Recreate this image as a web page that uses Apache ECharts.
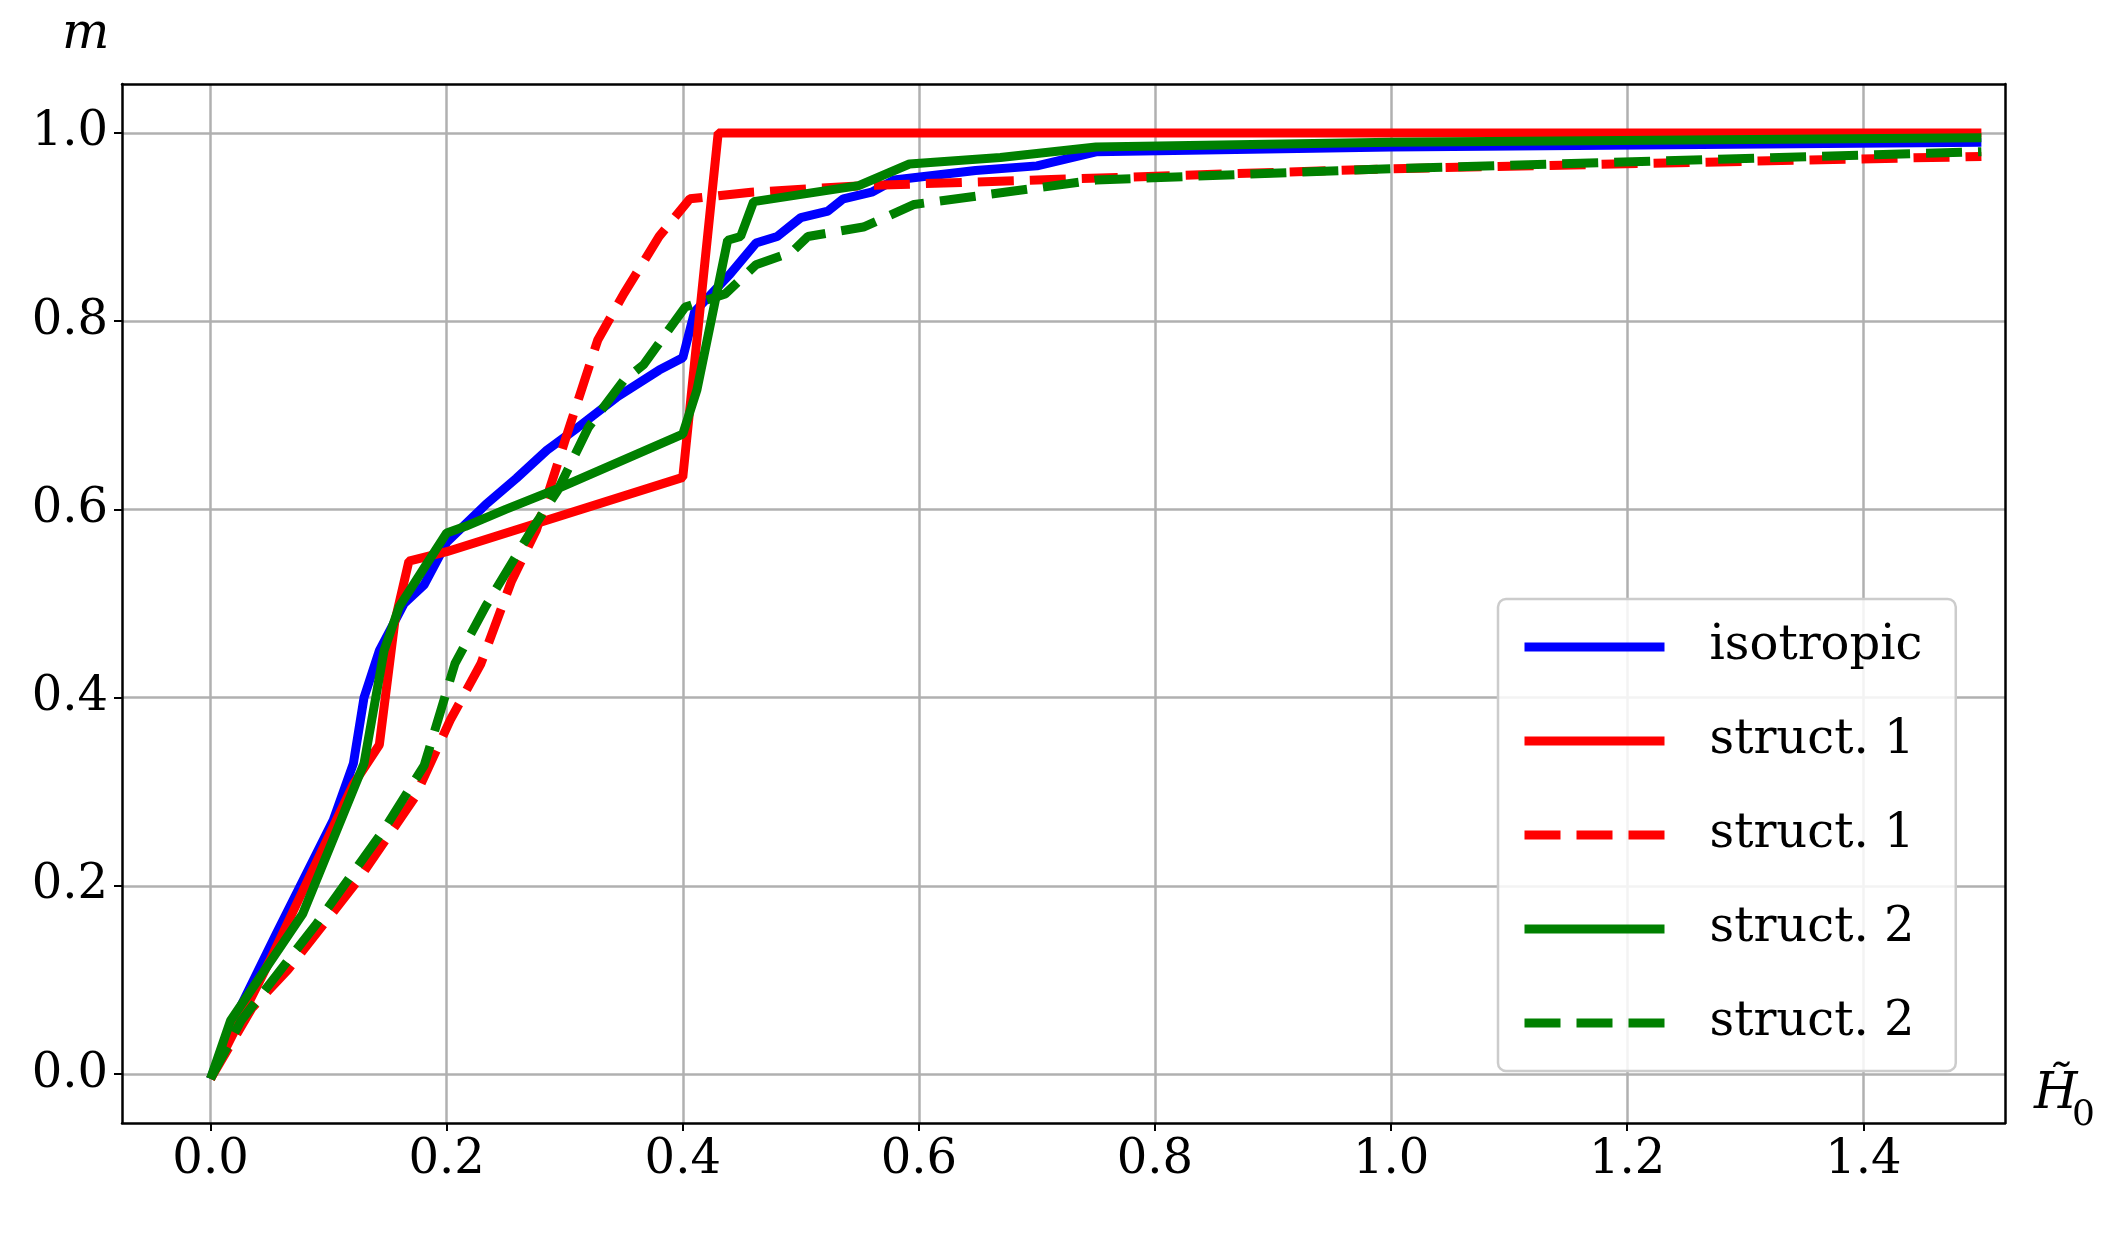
<!DOCTYPE html>
<html><head><meta charset="utf-8">
<script src="https://cdn.jsdelivr.net/npm/echarts@6/dist/echarts.min.js"></script>
<style>html,body{margin:0;background:#fff}#c{width:2121px;height:1234px}</style>
</head><body><div id="c"></div>
<script>
const isoX=[0,0.017,0.056,0.104,0.121,0.13,0.143,0.164,0.181,0.2,0.233,0.259,0.285,0.311,0.345,0.38,0.4,0.41,0.44,0.462,0.48,0.5,0.523,0.536,0.56,0.579,0.648,0.7,0.75,1.0,1.5];
const isoY=[-0.005,0.05,0.15,0.27,0.33,0.40,0.45,0.50,0.52,0.565,0.605,0.633,0.663,0.687,0.72,0.748,0.761,0.81,0.85,0.883,0.89,0.91,0.917,0.93,0.937,0.95,0.96,0.965,0.98,0.985,0.99];
const s1X=[0,0.05,0.121,0.143,0.156,0.168,0.2,0.4,0.43,1.5];
const s1Y=[-0.005,0.12,0.308,0.35,0.48,0.545,0.555,0.634,1.0,1.0];
const s1dX=[0,0.035,0.065,0.125,0.173,0.203,0.229,0.255,0.276,0.302,0.328,0.35,0.38,0.406,0.458,0.553,0.7,1.0,1.5];
const s1dY=[-0.005,0.07,0.11,0.206,0.294,0.376,0.436,0.524,0.578,0.68,0.78,0.829,0.89,0.93,0.937,0.944,0.95,0.962,0.975];
const s2X=[0,0.017,0.078,0.13,0.147,0.16,0.181,0.2,0.216,0.25,0.294,0.4,0.412,0.438,0.449,0.46,0.549,0.592,0.669,0.75,1.0,1.5];
const s2Y=[-0.005,0.057,0.17,0.33,0.45,0.497,0.538,0.575,0.582,0.6,0.622,0.68,0.727,0.886,0.89,0.927,0.944,0.967,0.974,0.985,0.99,0.995];
const s2dX=[0,0.026,0.09,0.147,0.181,0.207,0.233,0.272,0.294,0.32,0.35,0.367,0.402,0.436,0.462,0.492,0.506,0.553,0.596,0.75,1.0,1.5];
const s2dY=[-0.005,0.057,0.16,0.26,0.328,0.436,0.497,0.578,0.62,0.687,0.737,0.754,0.815,0.829,0.86,0.873,0.89,0.9,0.924,0.95,0.962,0.98];
const xTicks=[0,0.2,0.4,0.6,0.8,1.0,1.2,1.4];
const yTicks=[0,0.2,0.4,0.6,0.8,1.0];
const names=['isotropic','struct. 1','struct. 1 ','struct. 2','struct. 2 '];
const zip=(a,b)=>a.map((v,i)=>[v,b[i]]);
const font='"DejaVu Serif", "Liberation Serif", serif';
const mk=(name,x,y,color,dash)=>({name,type:'line',data:zip(x,y),symbol:'none',showSymbol:false,
  lineStyle:{color,width:9,type:dash?[36,16]:'solid'},itemStyle:{color}});
const boxAxis=(pos,extra)=>Object.assign({type:'value',position:pos,show:true,
  axisLine:{show:true,onZero:false,lineStyle:{color:'#000',width:2.5}},
  axisTick:{show:false},axisLabel:{show:false},splitLine:{show:false}},extra);
const chart=echarts.init(document.getElementById('c'));
chart.setOption({
  animation:false,
  grid:{left:122,right:116,top:84,bottom:111},
  xAxis:[{type:'value',min:-0.075,max:1.52,
    axisLine:{onZero:false,lineStyle:{color:'#000',width:2.5}},
    axisTick:{show:true,customValues:xTicks,length:8,lineStyle:{color:'#000',width:2}},
    axisLabel:{customValues:xTicks,formatter:v=>v.toFixed(1),fontSize:48,fontFamily:font,color:'#000',margin:14},
    splitLine:{show:true,lineStyle:{color:'#b0b0b0',width:2.5}}},
    boxAxis('top',{min:-0.075,max:1.52})],
  yAxis:[{type:'value',min:-0.052,max:1.052,
    axisLine:{show:true,onZero:false,lineStyle:{color:'#000',width:2.5}},
    axisTick:{show:true,customValues:yTicks,length:8,lineStyle:{color:'#000',width:2}},
    axisLabel:{customValues:yTicks,formatter:v=>v.toFixed(1),fontSize:48,fontFamily:font,color:'#000',margin:14},
    splitLine:{show:true,lineStyle:{color:'#b0b0b0',width:2.5}}},
    boxAxis('right',{min:-0.052,max:1.052})],
  legend:{left:1498,top:599,orient:'vertical',itemWidth:140,itemHeight:20,itemGap:46,
    padding:[24,26,24,22],borderColor:'#cccccc',borderWidth:2.5,borderRadius:8,backgroundColor:'rgba(255,255,255,0.85)',
    itemStyle:{opacity:0},lineStyle:{width:9},
    textStyle:{fontSize:48,fontFamily:font,color:'#000',padding:[0,0,0,40]},data:names},
  series:[mk(names[0],isoX,isoY,'#0000ff',false),mk(names[1],s1X,s1Y,'#ff0000',false),
    mk(names[2],s1dX,s1dY,'#ff0000',true),mk(names[3],s2X,s2Y,'#008000',false),mk(names[4],s2dX,s2dY,'#008000',true)],
  graphic:[
    {type:'text',left:62,top:10,style:{text:'m',font:'italic 50px '+font,fill:'#000'}},
    {type:'text',left:2034,top:1070,style:{text:'H̃',font:'italic 50px '+font,fill:'#000'}},
    {type:'text',left:2072,top:1098,style:{text:'0',font:'36px '+font,fill:'#000'}}
  ]
});
</script></body></html>
